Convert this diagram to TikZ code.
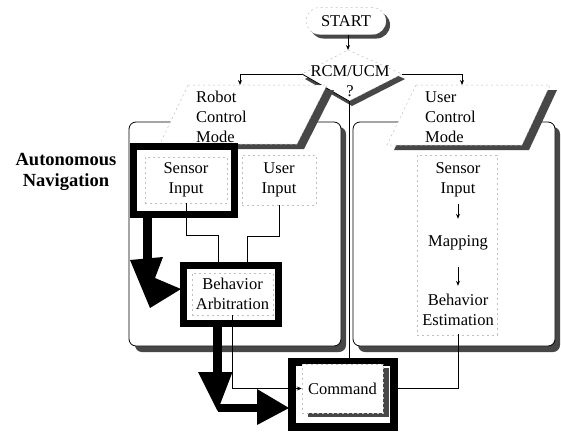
\documentclass[tikz,border=0pt]{standalone}
\usepackage{fontspec}
\setmainfont{Liberation Serif}
\usetikzlibrary{arrows.meta,calc,shadows}
\newcommand{\shadecolor}{black!72}
\newcommand{\faintcolor}{black!25}
\newcommand{\framewidth}{7pt}

\tikzset{
  label text/.style={font=\fontsize{16.5}{20}\selectfont, align=center, inner sep=0pt},
  faintbox/.style={draw=\faintcolor, dash pattern=on 2pt off 3pt, line width=0.5pt},
  frame/.style={draw=black, fill=white, line width=\framewidth, inner sep=0pt},
  wire/.style={line width=0.8pt},
  smalltip/.style={-{Stealth[length=5pt,width=4pt]}},
}

\begin{document}
\begin{tikzpicture}[x=1pt,y=-1pt]
\useasboundingbox[fill=white] (0,0) rectangle (561,431);

% panels
\fill[\shadecolor, rounded corners=7pt] (135,127) rectangle (346,352);
\fill[\shadecolor, rounded corners=7pt] (358,127) rectangle (560,352);
\draw[wire, fill=white, rounded corners=7pt] (129,122) rectangle (341,346);
\draw[wire, fill=white, rounded corners=7pt] (353,122) rectangle (555,346);

% start
\node[label text, faintbox, fill=white, minimum width=80pt, minimum height=27pt, rounded corners=13.5pt,
      drop shadow={shadow xshift=4pt, shadow yshift=-4pt, fill=\shadecolor, opacity=1}] (start) at (346,21) {START};

% decision
\coordinate (dtop) at (348,50);
\coordinate (dleft) at (302,74);
\coordinate (dbot) at (349,101);
\coordinate (dright) at (402,74);
\fill[\shadecolor] ($(dtop)+(3,5)$) -- ($(dright)+(3,5)$) -- ($(dbot)+(3,5)$) -- ($(dleft)+(3,5)$) -- cycle;
\draw[faintbox, fill=white] (dtop) -- (dright) -- (dbot) -- (dleft) -- cycle;
\draw[wire] (dleft) -- (dbot);
\node[label text] (dec) at (350,81) {RCM/UCM\\?};

% robot control mode
\coordinate (rtl) at (188,85);
\coordinate (rtr) at (327,85);
\coordinate (rbr) at (297,144);
\coordinate (rbl) at (160,144);
\fill[\shadecolor] ($(rtl)+(7,5)$) -- ($(rtr)+(7,5)$) -- ($(rbr)+(7,5)$) -- ($(rbl)+(7,5)$) -- cycle;
\draw[faintbox, fill=white] (rtl) -- (rtr) -- (rbr) -- (rbl) -- cycle;
\node[label text, align=left, anchor=west] (rcm) at (196,117) {Robot\\Control\\Mode};

% user control mode
\coordinate (utl) at (416,85);
\coordinate (utr) at (550,85);
\coordinate (ubr) at (522,145);
\coordinate (ubl) at (387,145);
\fill[\shadecolor] ($(utl)+(7,5)$) -- ($(utr)+(7,5)$) -- ($(ubr)+(7,5)$) -- ($(ubl)+(7,5)$) -- cycle;
\draw[faintbox, fill=white] (utl) -- (utr) -- (ubr) -- (ubl) -- cycle;
\node[label text, align=left, anchor=west] (ucm) at (425,117) {User\\Control\\Mode};

\coordinate (rcmin) at (240,85);
\coordinate (ucmin) at (462,85);
\draw[wire, smalltip] (start.south -| dtop) -- (dtop);
\draw[wire, smalltip] (dleft) -| (rcmin);
\draw[wire, smalltip] (dright) -| (ucmin);

% autonomous navigation
\node[font=\bfseries\fontsize{18.5}{21}\selectfont, align=center, inner sep=0pt] (auto) at (66,172) {Autonomous\\Navigation};

% left panel
\node[frame, minimum width=101pt, minimum height=68pt] (sensframe) at (184,180.5) {};
\node[label text, faintbox, minimum width=82pt, minimum height=46pt] (sens) at (186,180) {Sensor\\Input};
\node[label text, faintbox, minimum width=74pt, minimum height=50pt] (uin) at (279,180) {User\\Input};
\node[frame, minimum width=95pt, minimum height=58pt] (arbframe) at (231,294.5) {};
\node[label text, faintbox, minimum width=81pt, minimum height=42pt] (arb) at (232.5,294) {Behavior\\Arbitration};

% command
\node[frame, line width=8pt, minimum width=102pt, minimum height=65pt] (cmdframe) at (343,394.5) {};
\node[label text, faintbox, fill=white, minimum width=81pt, minimum height=49pt,
      drop shadow={shadow xshift=6pt, shadow yshift=-4pt, fill=\shadecolor, opacity=1}] (cmd) at (342.5,388.5) {Command};

% right panel
\node[faintbox, minimum width=80pt, minimum height=180pt] (rcol) at (457,245) {};
\node[label text, minimum height=48pt] (rsen) at (458,180) {Sensor\\Input};
\node[label text, minimum height=48pt] (rmap) at (458,243) {Mapping};
\node[label text, minimum height=48pt] (rest) at (458,310) {Behavior\\Estimation};
\draw[wire, smalltip] (rsen) -- (rmap);
\draw[wire, smalltip] (rmap) -- (rest);

% thin wires
\draw[wire] (dbot) -- (dbot |- cmdframe.north);
\draw[wire] (sens.south) -- ++(0,32) -| ($(arbframe.north)+(-13,0)$);
\draw[wire] (uin.south) -- ++(0,31) -| ($(arbframe.north)+(16,0)$);
\draw[wire, smalltip] (arb.south) |- (cmd.west);
\draw[wire] (rest.south) |- (cmdframe.east |- cmd.east);

% thick arrows
\coordinate (a1) at ($(sensframe.south west)+(17.5,0)$);
\coordinate (a1tip) at ($(arbframe.west)+(1,-5.5)$);
\fill ($(a1)+(-4.5,0)$) rectangle ($(a1)+(4.5,42)$);
\fill (a1tip) -- ++(-31,19) -- ++(-20,-48) -- ++(33,-3) -- ++(-8,21) -- cycle;
\coordinate (a2) at ($(arbframe.south)+(-13.5,0)$);
\coordinate (a2tip) at ($(cmdframe.west)+(1,13.5)$);
\fill ($(a2)+(-4.5,0)$) rectangle ($(a2)+(4.5,46)$);
\fill ($(a2)+(-19.5,45)$) -- ($(a2)+(15,45)$) -- ($(a2)+(0,84)$) -- cycle;
\fill ($(a2tip)+(-71.5,-4)$) rectangle ($(a2tip)+(-31,4)$);
\fill (a2tip) -- ++(-32,-19) -- ++(0,36) -- cycle;
\end{tikzpicture}
\end{document}
